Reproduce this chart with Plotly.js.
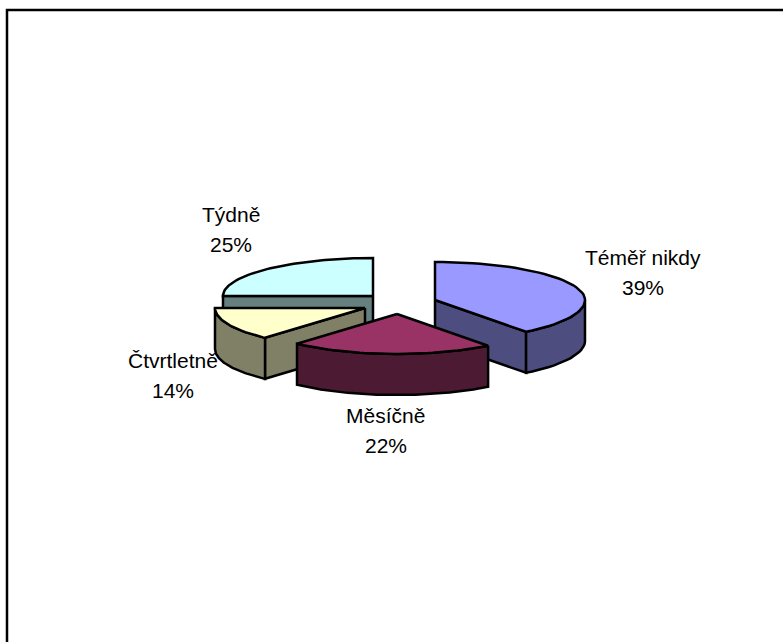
<!DOCTYPE html>
<html><head><meta charset="utf-8">
<script src="https://cdn.plot.ly/plotly-3.0.1.min.js"></script>
<style>html,body{margin:0;padding:0;background:#fff}</style></head>
<body><div id="chart" style="width:783px;height:642px"></div>
<script>
const categories = ["Téměř nikdy", "Měsíčně", "Čtvrtletně", "Týdně"];
const values = [39, 22, 14, 25];
const percentLabels = ["39%", "22%", "14%", "25%"];
const topColors = ["#9999FF", "#993366", "#FFFFCC", "#CCFFFF"];
const wallColors = ["#4D4D80", "#4D1A33", "#808066", "#668080"];

// view geometry of the tilted, exploded pie (layout only, not data)
const apexX = [435, 397, 365, 373], apexY = [300, 314, 308, 296];
const labelX = [642.5, 385.5, 173, 231], labelY = [257, 415, 360, 214];
const lineGap = 30.5;
const drawOrder = [3, 2, 0, 1];
const rx = 150, ryBack = 38, ryFront = 40, depth = 41, warp = 2.86 * Math.PI / 180;

const total = values.reduce((a, b) => a + b, 0);
const line = {color: "#000", width: 2.5};
const traces = [];
function poly(xs, ys, color) {
  traces.push({type: "scatter", mode: "lines", x: xs, y: ys, fill: "toself", fillcolor: color,
    line, hoverinfo: "skip", showlegend: false});
}
let acc = 0;
const wedges = values.map(v => {
  const a0 = acc / total * 2 * Math.PI; acc += v;
  return {a0, a1: acc / total * 2 * Math.PI};
});
drawOrder.forEach(i => {
  const w = wedges[i], ax = apexX[i], ay = apexY[i];
  const view = t => t + warp * Math.max(0, -Math.cos(t));
  const px = t => ax + rx * Math.sin(view(t));
  const py = t => { const c = Math.cos(view(t)); return ay - (c > 0 ? ryBack : ryFront) * c; };
  const n = 48, ts = [];
  for (let k = 0; k <= n; k++) ts.push(w.a0 + (w.a1 - w.a0) * k / n);
  // radial walls that face the viewer
  if (Math.sin(w.a0) < -1e-6) poly([ax, px(w.a0), px(w.a0), ax, ax], [ay, py(w.a0), py(w.a0) + depth, ay + depth, ay], wallColors[i]);
  if (Math.sin(w.a1) > 1e-6) poly([ax, px(w.a1), px(w.a1), ax, ax], [ay, py(w.a1), py(w.a1) + depth, ay + depth, ay], wallColors[i]);
  // outer rim, front half only
  const rim = ts.filter(t => Math.cos(t) <= 1e-6);
  if (rim.length > 1) {
    const back = rim.slice().reverse();
    poly(rim.map(px).concat(back.map(px), [px(rim[0])]),
         rim.map(py).concat(back.map(t => py(t) + depth), [py(rim[0])]), wallColors[i]);
  }
  // top face
  poly([ax].concat(ts.map(px), [ax]), [ay].concat(ts.map(py), [ay]), topColors[i]);
});
const font = {family: "Liberation Sans, Arial, sans-serif", size: 21, color: "#000"};
const annotations = [];
categories.forEach((c, i) => {
  annotations.push({xref: "x", yref: "y", x: labelX[i], y: labelY[i], text: c, showarrow: false, font});
  annotations.push({xref: "x", yref: "y", x: labelX[i], y: labelY[i] + lineGap, text: percentLabels[i], showarrow: false, font});
});
const layout = {
  width: 783, height: 642, margin: {l: 0, r: 0, t: 0, b: 0},
  paper_bgcolor: "#fff", plot_bgcolor: "#fff", showlegend: false,
  xaxis: {range: [0, 783], visible: false, fixedrange: true},
  yaxis: {range: [642, 0], visible: false, fixedrange: true},
  annotations,
  shapes: [{type: "path", xref: "x", yref: "y", path: "M7,642 L7,10 L783,10", line: {color: "#000", width: 2.5}, fillcolor: "rgba(0,0,0,0)"}]
};
Plotly.newPlot("chart", traces, layout, {displayModeBar: false, staticPlot: true});
</script></body></html>
